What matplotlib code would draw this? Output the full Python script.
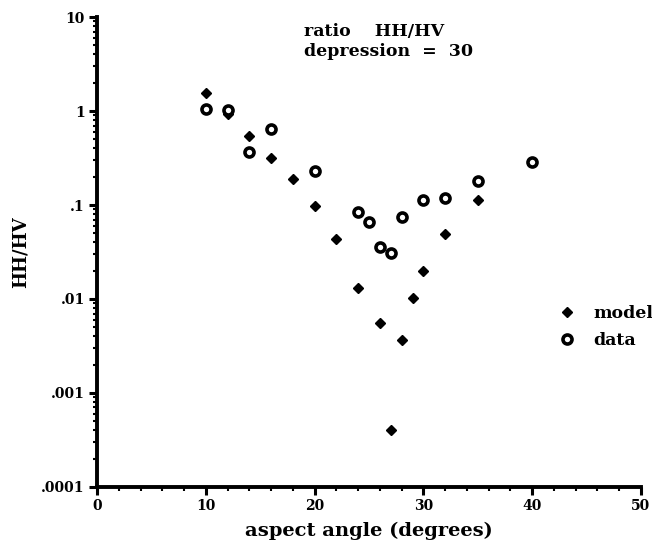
import matplotlib
matplotlib.use("Agg")
import matplotlib.pyplot as plt
from matplotlib.ticker import FixedLocator, NullFormatter, LogLocator

model_angle = [10, 12, 14, 16, 18, 20, 22, 24, 26, 27, 28, 29, 30, 32, 35]
model_ratio = [1.55, 0.93, 0.54, 0.32, 0.19, 0.098, 0.043, 0.013, 0.0056,
               0.0004, 0.0037, 0.0102, 0.020, 0.049, 0.113]
data_angle = [10, 12, 14, 16, 20, 24, 25, 26, 27, 28, 30, 32, 35, 40]
data_ratio = [1.05, 1.02, 0.37, 0.64, 0.23, 0.084, 0.066, 0.036, 0.031,
              0.075, 0.113, 0.119, 0.18, 0.29]
x_ticks = [0, 10, 20, 30, 40, 50]
y_ticks = [1e-4, 1e-3, 1e-2, 1e-1, 1, 10]
y_ticklabels = [".0001", ".001", ".01", ".1", "1", "10"]

plt.rcParams['font.family'] = ['DejaVu Serif']
plt.rcParams['font.weight'] = 'bold'

fig = plt.figure(figsize=(6.52, 5.52), dpi=100)
ax = fig.add_axes([0.149, 0.118, 0.834, 0.851])

ax.plot(model_angle, model_ratio, linestyle='none', marker='D', markersize=5,
        color='black', label='model')
ax.plot(data_angle, data_ratio, linestyle='none', marker='o', markersize=6.5,
        markerfacecolor='white', markeredgecolor='black', markeredgewidth=2.6,
        label='data')

ax.set_yscale('log')
ax.set_xlim(0, 50)
ax.set_ylim(1e-4, 10)

ax.set_xticks(x_ticks)
ax.set_xticklabels([str(t) for t in x_ticks])
ax.xaxis.set_minor_locator(FixedLocator(list(range(0, 51, 2))))
ax.set_yticks(y_ticks)
ax.set_yticklabels(y_ticklabels)
ax.yaxis.set_minor_locator(LogLocator(base=10, subs=range(2, 10), numticks=20))
ax.yaxis.set_minor_formatter(NullFormatter())

for s in ['top', 'right']:
    ax.spines[s].set_visible(False)
for s in ['left', 'bottom']:
    ax.spines[s].set_linewidth(2.8)

ax.tick_params(which='major', direction='out', length=6, width=2.2,
               labelsize=10, pad=3)
ax.tick_params(which='minor', direction='out', length=3, width=1.5)
for lab in ax.get_xticklabels() + ax.get_yticklabels():
    lab.set_fontweight('bold')

ax.set_xlabel('aspect angle (degrees)', fontsize=14, fontweight='bold', labelpad=6)
ax.set_ylabel('HH/HV', fontsize=13, fontweight='bold', labelpad=8)

ax.text(0.381, 0.988, 'ratio    HH/HV', transform=ax.transAxes, fontsize=12.5,
        fontweight='bold', va='top', ha='left')
ax.text(0.381, 0.945, 'depression  =  30', transform=ax.transAxes, fontsize=12.5,
        fontweight='bold', va='top', ha='left')

leg = ax.legend(loc='upper left', bbox_to_anchor=(0.82, 0.42), frameon=False,
                handlelength=1.0, handletextpad=1.0, labelspacing=0.55,
                prop={'size': 12.5, 'weight': 'bold'}, numpoints=1)

fig.savefig('out.png', dpi=100, facecolor='white')
